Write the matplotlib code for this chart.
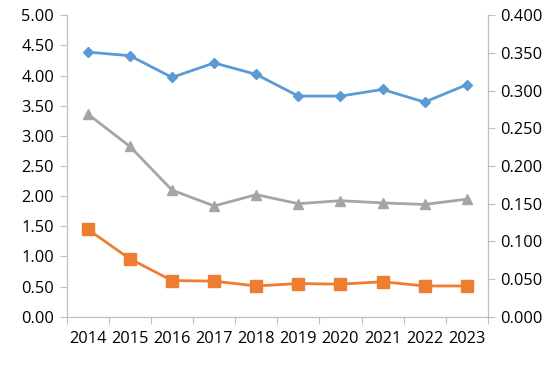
import matplotlib
matplotlib.use("Agg")
import matplotlib.pyplot as plt

years = ["2014", "2015", "2016", "2017", "2018", "2019", "2020", "2021", "2022", "2023"]
blue_vals = [4.39, 4.33, 3.97, 4.21, 4.02, 3.66, 3.66, 3.77, 3.56, 3.85]
orange_vals = [1.45, 0.96, 0.60, 0.59, 0.51, 0.55, 0.54, 0.58, 0.51, 0.51]
# gray series on secondary axis
gray_vals = [0.269, 0.226, 0.168, 0.147, 0.162, 0.150, 0.154, 0.151, 0.149, 0.156]

plt.rcParams["font.family"] = ["Open Sans", "DejaVu Sans"]
plt.rcParams["font.size"] = 11.8

fig = plt.figure(figsize=(5.5, 3.69), dpi=100)
ax = fig.add_axes([0.1213, 0.1417, 0.887 - 0.1213, 0.9585 - 0.1417])
ax2 = ax.twinx()

x = list(range(len(years)))
ax.plot(x, blue_vals, color="#5B9BD5", lw=2, marker="D", ms=5.5, zorder=3)
ax.plot(x, orange_vals, color="#ED7D31", lw=2, marker="s", ms=8, zorder=3)
ax2.plot(x, gray_vals, color="#A5A5A5", lw=2, marker="^", ms=7.5, zorder=3)

ax.set_xlim(-0.5, len(years) - 0.5)
ax.set_ylim(0, 5)
ax2.set_ylim(0, 0.4)
ax.set_yticks([i * 0.5 for i in range(11)])
ax.set_yticklabels([f"{i * 0.5:.2f}" for i in range(11)])
ax2.set_yticks([i * 0.05 for i in range(9)])
ax2.set_yticklabels([f"{i * 0.05:.3f}" for i in range(9)])

ax.set_xticks([i - 0.5 for i in range(len(years) + 1)])
ax.set_xticklabels([])
ax.set_xticks(x, minor=True)
ax.set_xticklabels(years, minor=True)
ax.tick_params(axis="x", which="minor", length=0, pad=10)
ax.tick_params(axis="x", which="major", length=5, color="#BFBFBF")
ax.tick_params(axis="y", length=5, color="#BFBFBF", pad=4)
ax2.tick_params(axis="y", length=5, color="#BFBFBF", pad=4)

for a in (ax, ax2):
    a.spines["top"].set_visible(False)
    for s in ("left", "right", "bottom"):
        a.spines[s].set_color("#BFBFBF")

fig.savefig("out.png", dpi=100)
